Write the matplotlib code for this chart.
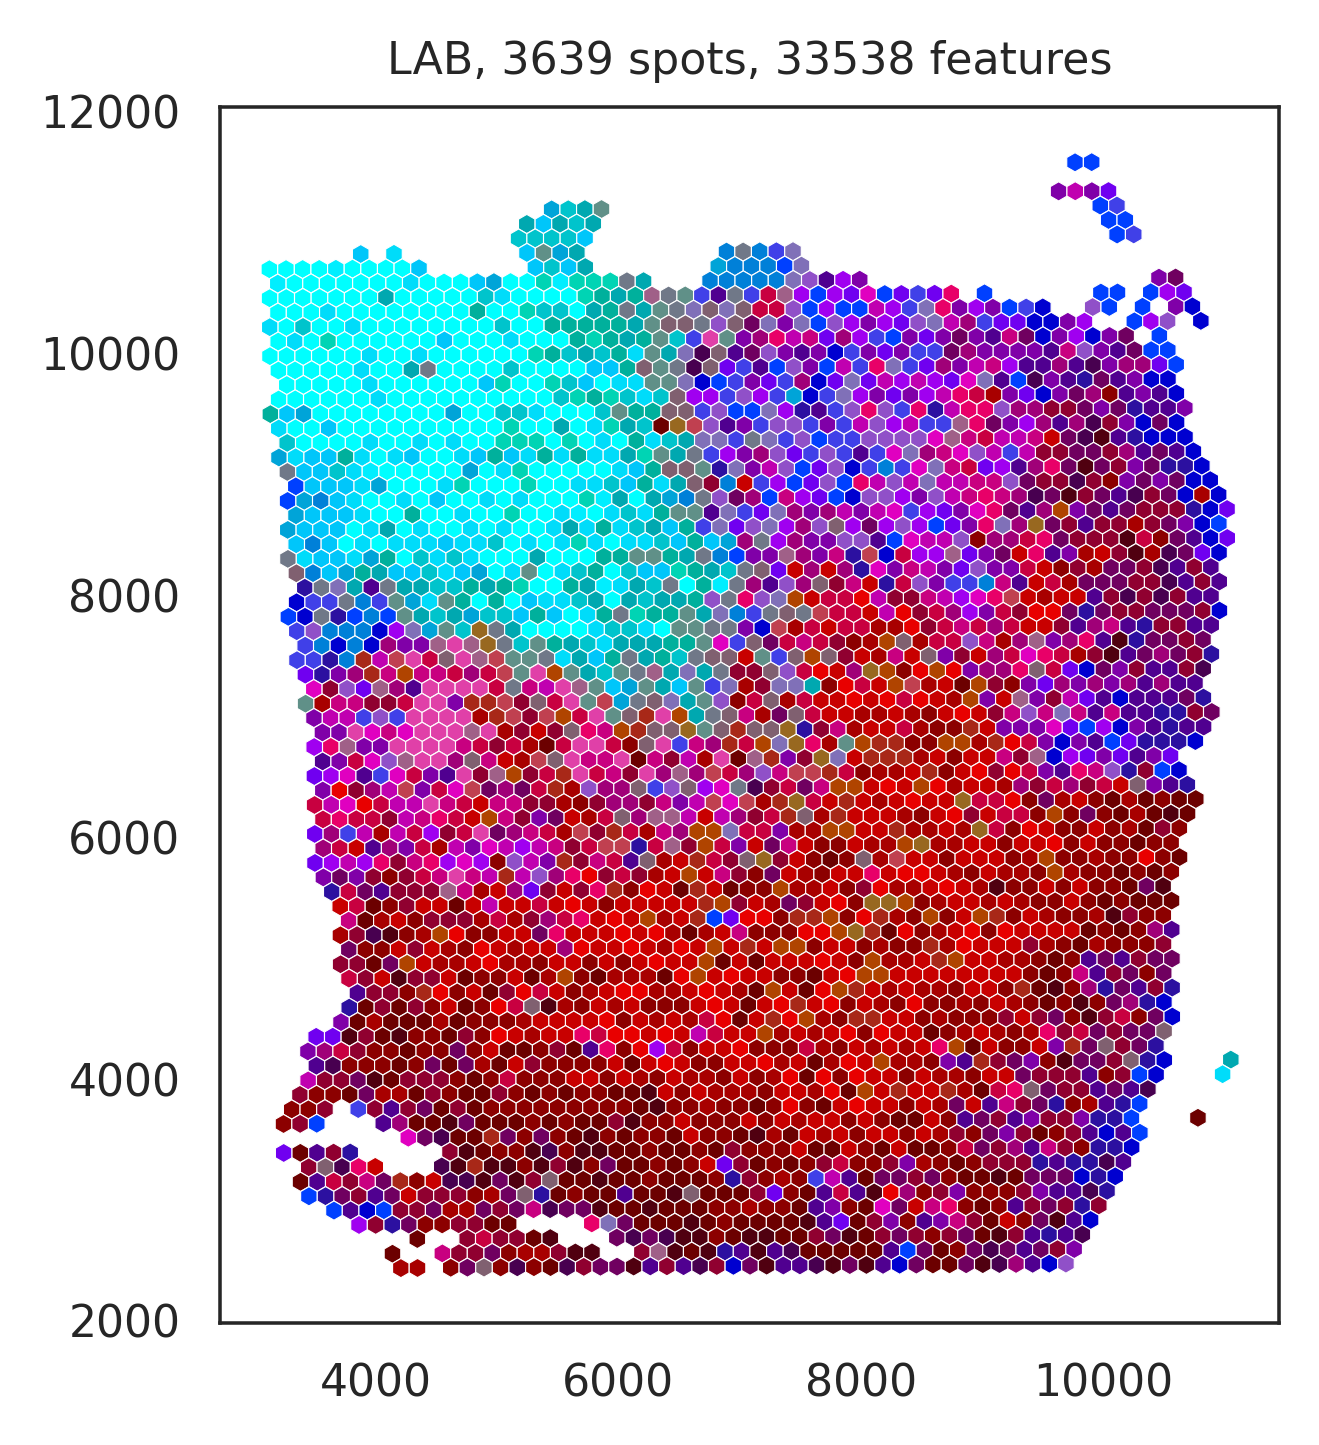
import matplotlib
matplotlib.use("Agg")
import matplotlib.pyplot as plt
from matplotlib.transforms import ScaledTranslation

title_text = "LAB, 3639 spots, 33538 features"
x_ticks = [4000, 6000, 8000, 10000]
y_ticks = [2000, 4000, 6000, 8000, 10000, 12000]

# Colour key for the per-spot strings below.
spot_palette = {
    'c': '#00FFFF', 'x': '#00EEFF', 'C': '#00DCFA', 'y': '#00C6FA', 'b': '#00A4D8',
    'a': '#0080D8', 't': '#00C4CC', 'u': '#00A8B0', 'g': '#00D4B4', 'h': '#00B09C',
    'G': '#609088', 'z': '#707888', 'B': '#0040FF', 'N': '#0000D0', 'i': '#4040E8',
    'I': '#2C10A0', 'v': '#7000F0', 'V': '#A000F0', 'p': '#8000A8', 'P': '#500090',
    'l': '#9050C8', 'L': '#8070B8', 'm': '#C000B0', 'M': '#E000C0', 'k': '#E80068',
    'K': '#C80080', 'f': '#E040A8', 'q': '#A00078', 'Q': '#700060', 'j': '#480050',
    'r': '#E80000', 'R': '#C80000', 'd': '#A80000', 'D': '#8C0000', 'e': '#6C0000',
    'E': '#500010', 'w': '#C80040', 'W': '#900030', 'o': '#B04400', 'O': '#986820',
    's': '#A06088', 'S': '#806070', 'n': '#C04050', 'T': '#A82818',
}

# Occupied lattice columns of each array row, top row first.
row_spans = [
    [(0, 1)], [], [(-1, 2)],
    [(-32, -29), (1, 2)], [(-33, -29), (2, 3)], [(-34, -30), (2, 3)],
    [(-43, -43), (-41, -41), (-33, -30), (-21, -17)],
    [(-49, -40), (-33, -30), (-22, -17)],
    [(-48, -26), (-22, -13), (5, 6)],
    [(-49, -8), (-6, -6), (1, 2), (4, 6)],
    [(-48, -2), (1, 2), (4, 4), (6, 7)],
    [(-49, 0), (3, 5), (7, 7)],
    [(-48, 3), (5, 5)],
    [(-49, 5)], [(-48, 6)], [(-48, 5)], [(-48, 6)], [(-49, 6)], [(-48, 6)], [(-48, 6)],
    [(-48, 7)], [(-48, 7)], [(-47, 8)], [(-48, 8)], [(-47, 9)], [(-48, 8)], [(-47, 9)],
    [(-48, 8)], [(-47, 8)], [(-47, 8)], [(-47, 8)], [(-48, 8)], [(-47, 8)], [(-47, 7)],
    [(-47, 8)], [(-47, 7)], [(-46, 7)], [(-47, 7)], [(-46, 8)], [(-46, 7)], [(-46, 7)],
    [(-46, 5)], [(-46, 6)], [(-46, 6)], [(-46, 7)], [(-46, 6)], [(-46, 6)], [(-46, 5)],
    [(-46, 6)], [(-46, 5)], [(-45, 5)], [(-45, 5)], [(-44, 5)], [(-45, 5)], [(-44, 5)],
    [(-45, 5)], [(-44, 5)], [(-44, 5)], [(-44, 5)], [(-45, 5)], [(-46, 5)], [(-47, 4)],
    [(-46, 5), (9, 9)], [(-47, 4), (8, 8)], [(-47, 4)],
    [(-48, -46), (-44, 3)],
    [(-48, -46), (-42, 3), (7, 7)],
    [(-41, 3)],
    [(-48, -44), (-38, 3)],
    [(-47, -43), (-39, 2)],
    [(-47, 2)], [(-47, 1)], [(-45, 1)],
    [(-44, -35), (-30, 0)],
    [(-40, -40), (-37, -32), (-28, 0)],
    [(-42, -42), (-39, -30), (-27, -1)],
    [(-41, -40), (-38, -1)],
]

# One palette letter per spot, in the order of the spans of that row.
row_colors = [
    "BB", "", "pmpv",
    "btuG" "Bi",
    "uyutu" "BB",
    "tttty" "Bi",
    "yC" "yGbu" "azaiL",
    "ccccxccccy" "ytyu" "baaaBL",
    "xcccccccCcccybccgxg" "ggzu" "aaaaaLlPVp" "pQ",
    "cccccccuccccctCccccg" "huhszGiPziwsVBVvMBvivk" "B" "BB" "BVv",
    "cccCcccccccchccgttc" "uhzuGzLSLSwwlBVBBmV" "iLkpVpBiN" "lB" "B" "pN",
    "CctccCcccccccctcchhh" "hhuGSSzlSQLpLBlVpVv" "lLmqivvNNpV" "BVl" "N",
    "cCcgccccccycccCccch" "ghuhGtifGpqkmKvqViB" "pvpQpPKQNpVNpQ" "B",
    "ccccccCccCccccccghtu" "thCGuLjSPQlpPpNipvp" "iiQqppppPKlpPQBB",
    "cccccCccuzcccctcccc" "yyhSGzjSviPBlpBmikL" "ivqpmKVPPqPjpqqvB",
    "cccccCccccccygccgty" "cCCGGLNBipviqNvLvmV" "mVvMLPBjpPIQPpNN",
    "ccccccCcccccccccctg" "hgtCtSVVilVibNiLVpv" "pVmkwdpvNpQqDPpPN",
    "hybccccccccbccttCccc" "tGhhSSilBBLVIPilkli" "kImkklqqWWQpQIPPp",
    "Cccyccccccccccgccuc" "CguteOnlPpillipimlV" "miiskQpVqPqjWpNQN",
    "tccccCccCcCccgggcgc" "CchCtuLLizLilBiilll" "lMsKwmmKRQjEPINNN",
    "bCyyhCcCyccCyhyChCh" "CCugGuziVpqlviliPiM" "LqKMlmimWWQQWqPQPN",
    "zyytCxcccccbcCgcccc" "cCyhSSGILpmlBvlNiai" "MLKwvVPqkQEQWpQIIN",
    "ByyyCbcccCgcccgccC" "CtyhCuSWaRiVBvlBkml" "mLmmKKlQWWjWDpQpQNN",
    "BbayCccCcyccCcCcccg" "xucubazlQqBKVvBNllV" "plmKkKqjQEWQPjWQNdN",
    "byyyCcchccCccgccCx" "cCtChGGPLivLqpqmpmM" "iVvpMkQPqopQPQWWWINv",
    "byyycCucCccCcCccCuC" "hCtuyhiLvlLVqlSVQVl" "VBvpkLqOQWPWWdWQpNB",
    "yaycCcCCCyCCtcCcCg" "CcCCtyhybqzVqppllPB" "MmmlDqqwkQWWWEwDQPNv",
    "zCyyCbhctCtCcccuccc" "hhGGhuzaBppsqpKInNw" "VVsvpQRkPpdRWEdjQvN",
    "SaybhuyytCybcCGcCt" "hctyyghutzSvRqRqIMp" "KmpvlppwRDWdQQWjPWP",
    "IzLuPzuutthuhgcchu" "xCutzchxzqPlqSWKRIw" "lpiiaKPRwdQQQWWjPWP",
    "NiizaiGbCGhchcyCCt" "ucutuuhlzklLoRwwrmW" "WKmVMknRdRRPWjWjWPP",
    "BNzIBaBGutubttyhycC" "hzghhGuLaizSznwwRmr" "WwqVpwWrrQIQWWQQQWN",
    "ilaaaNVLbGtOzucccc" "CttCcGGzzpNndwRwwdd" "rWwKwqwRRWPqKPIWWPP",
    "iaNaNqppsfsOztGhut" "CuuuhhGMiSQwKwWDdoS" "dwwlKdqspqkPEIQQWQ",
    "iiIaTmnfwSfsnGGzCu" "yhzuhtzSSRGiSoSWRdK" "RSpWRqwMkwdWEPQqQWI",
    "vIpqTKoKKwqwnGfoGu" "tGzsuLuzWWSlwrRqOoD" "rorpqqkSwvNQpWPPWj",
    "MWlvsqPffffwzKmfs" "GybGuyGiLdWLLuDrwRo" "ndReoWDpvqpqpqPqPP",
    "GdKKWWwffpTTnWSwfG" "nbzSLuGlDwSdwRRrRrw" "rRdopRspWmvPNPPPQI",
    "pmmiliffffdTnWnow" "fGSTfouzSKdQSwRRddR" "dDRrRWKlKLKPKPPIIWQ",
    "ppfMKMfffsfdWRWSk" "KoTSSOGSTSSOIWKdRRw" "dDDTRpppMvBVNpPIP",
    "VksppffffKwWwdewf" "fwDSfiKqTwoLOkdGoTT" "DDoodTrwpNpPBvIIIN",
    "PpwMlsffqSKRdnSf" "KKfeKWmdfesTpWOLRTTT" "dRDRRKWsNVvpvPpv",
    "vVMPiMwpPfWsoWwTf" "wKWfqsqnwqlKnnTwDdd" "RTDRrWrwpPkKlIWBN",
    "prWqmnpwMnQqQwTdl" "qqSilSVMzjWwQKooRrR" "ordRRdqWwqWwRSpPI",
    "wmMrwmmfKwRKKWWdD" "WqqWKpmnMndTOwRTRdR" "rRROwwrDQdRDedeDee",
    "wkwwWmKkwRoKWpQRd" "wSqssmRmqWwTSdTRRRd" "DRrWRwwDoDQDedeEe",
    "vqimdmwVWwfQqKwdn" "WTwdKqooLwwpddooRRT" "ddRdOwDrRDDRDdeWD",
    "qwRPqpwdmpMmVmKWw" "nnIwsWowpRQKRDDRddo" "OddRRDRRrDRDDeDD",
    "vVmVkWKkVMVDlmpTW" "KwPSdRTwWSOWRDeDSdn" "RRDRRRDdoDDdDDrDe",
    "pQpWDWwKfKmTmlqkr" "WwWdRoRKWDQRdDRRkRr" "rRdDRddDodDDeDeD",
    "IwQPWWWsKdRqvWRW" "kTDrReTReDDoddRDWrd" "dRrRdEDDRDRDDeQE",
    "RweDWRReRmRRwRrR" "DRRRRRToWRdQWRrDOOo" "DdRRdRdDDRDeDeee",
    "KedRDWWWdwdWqwk" "RrRodRTBvrrDTToDrTd" "DoDRoTDRdDDdEWDD",
    "dWjEDdorDDRRQkRR" "RrRrdedRKDDDrroOTer" "DdRrDrRRRReDeDqP",
    "QDDRWRdDrRdRRqr" "RRrRdrRoRTRooDRRDdD" "DTdrRRRWdDedDDDW",
    "WWeQoRddRrddDRRD" "RDRrRRoeReRRRrRDodd" "RToRRddDeDPQPWQQ",
    "wWREWWReDDRedoD" "eddderoRrRRDDeRrooR" "RRRRRRRDeDKPWQDQ",
    "PWWDTrDReWrwRDd" "RrrddRrRdeoReroTRdR" "ddDRRDTeEDqIQPWI",
    "IeWeWDReDrwSEdD" "RdRDDDRrReRrTRrDRdD" "rDDdDRdDeDEDQqIN",
    "pedeeedeDDDdRRRR" "rDRdRdwreRTrodDTTRR" "DdDDDWRWQDEWwDQN",
    "vvEWeEDDeWDrRdRRk" "wrrRrRmwRRodRdRrDrR" "ReDdRdDdkWwQWQQS",
    "pqwWDDeDDQDReeDWeP" "kDrVwDRRrDDDwdDRdRd" "RkoeRDDRpTQSWQI",
    "PjDDDeDQeQdeRWDDD" "DReRrRDDRRrdRedrRod" "dDpPTWQpDEQQWSIN" "u",
    "mWWQEeWWWDeDwDDDRR" "DRdDRddDRDdrerDrRRD" "RddDRRQWWWPDWBN" "C",
    "WDDeQddeWDeeWDeDeD" "DeeERDRdddDRRdreoRT" "RRTdewkSQWWPQPj",
    "DDW" "iWPWQeWeDDDDDDD" "DDeEDDdDDeDrDeRrRRD" "RdQRPKWQIDdPIB",
    "DWB" "PqeeEQeeeDeDe" "eWEDDRDDDRDRdRRDRDe" "eRDPQWPpWWpIIB" "e",
    "MQjeeTQDQDeE" "DeDDeRDDeEdeRdRDRRD" "RdWDQpWeDWPNPB",
    "vePWI" "WEeDDEjDE" "EeeDeeDeWDDDReeRDeR" "eeDwQWqPKWDIIN",
    "WSjkR" "jETEEDEWED" "QeeDeDRvWeDeDWwDDWp" "dDeDWWWIPIIjP",
    "ePwWKQTDRjjEQEWSee" "EeeDeeeDIWDdDimPeQQ" "WQDeeEeQQQNIN",
    "BIQWPQRWWWDdQSIeDe" "ePeeESeeeWvDePwPErq" "DWpDDDWpPPjI",
    "BPNBWWQddQWQKjQQ" "EeeEeeeDDdDDePpDeMQ" "RKkDeDPWQWIW",
    "VWIQDDWWee" "kLQeeeEeDeeeeEPveWpD" "PpKWeRDQEPN",
    "e" "WwWWeE" "QjQjEEDeEEeeWQEeWQ" "WDWQeEWPIPj",
    "e" "KWWQDddWEE" "WsEeEIPEPjeeeeePB" "QeDQjQPQWp",
    "dd" "DQSDjDejW" "QQEPWPjWNQEPPjEQEPN" "QeeQEjqPNl",
]

# Hexagonal lattice of the capture array, slightly rotated on the slide.
origin_x, origin_y = 9769.0, 11593.0
col_pitch, row_pitch = 137.2, 119.75
rotation = 0.0068

xs, ys, colors = [], [], []
for r, spans in enumerate(row_spans):
    cols = [c for a, b in spans for c in range(a, b + 1)]
    letters = row_colors[r]
    if cols:
        letters = (letters + letters[-1] * len(cols))[:len(cols)]
    for c, letter in zip(cols, letters):
        xs.append(origin_x + col_pitch * (c + 0.5 * (r % 2)) + rotation * row_pitch * r)
        ys.append(origin_y - row_pitch * r + rotation * col_pitch * c)
        colors.append(spot_palette[letter])

W, H = 1319, 1445
fig = plt.figure(figsize=(W / 300, H / 300), dpi=300)
ax = fig.add_axes([220 / W, 1 - 1323 / H, (1279 - 220) / W, (1323 - 107) / H])
ax.scatter(xs, ys, c=colors, s=21.2, marker='h', edgecolors='white', linewidths=0.27)
ax.set_xlim(2713, 11452)
ax.set_ylim(2000, 12050)
ax.set_xticks(x_ticks)
ax.set_yticks(y_ticks)
ax.tick_params(length=0, labelsize=10.6, labelcolor='#262626', pad=9.5)
label_lift = ScaledTranslation(0, 2 / 300, fig.dpi_scale_trans)
for label in ax.get_yticklabels():
    label.set_transform(label.get_transform() + label_lift)
ax.set_title(title_text, fontsize=10.63, color='#262626', pad=7.9)
for spine in ax.spines.values():
    spine.set_color('#262626')
    spine.set_linewidth(0.85)
fig.savefig("out.png", dpi=300)
